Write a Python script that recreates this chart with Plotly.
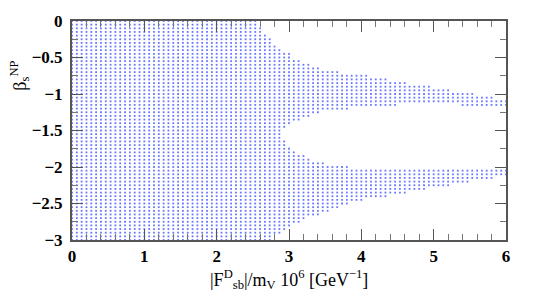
import plotly.graph_objects as go

# Scan rows of beta_s^NP (y) and the allowed |F_sb^D|/m_V extent read for each row
beta_rows = [0.00, -0.05, -0.10, -0.15, -0.20, -0.25, -0.30, -0.35, -0.40, -0.45,
             -0.50, -0.55, -0.60, -0.65, -0.70, -0.75, -0.80, -0.85, -0.90, -0.95,
             -1.00, -1.05, -1.10, -1.15, -1.20, -1.25, -1.30, -1.35, -1.40, -1.45,
             -1.50, -1.55, -1.60, -1.65, -1.70, -1.75, -1.80, -1.85, -1.90, -1.95,
             -2.00, -2.05, -2.10, -2.15, -2.20, -2.25, -2.30, -2.35, -2.40, -2.45,
             -2.50, -2.55, -2.60, -2.65, -2.70, -2.75, -2.80, -2.85, -2.90, -2.95,
             -3.00]
row_xmax = [2.58, 2.58, 2.60, 2.65, 2.68, 2.77, 2.78, 2.85, 2.91, 3.00,
            3.05, 3.16, 3.32, 3.45, 3.71, 4.10, 4.36, 4.65, 4.96, 5.26,
            5.55, 5.82, 6.00, 4.50, 3.80, 3.46, 3.27, 3.16, 3.06, 2.95,
            2.90, 2.90, 2.90, 2.95, 2.98, 3.06, 3.13, 3.20, 3.30, 3.50,
            3.85, 6.00, 6.00, 5.82, 5.50, 5.20, 4.90, 4.60, 4.36, 4.06,
            3.85, 3.71, 3.57, 3.46, 3.25, 3.16, 3.02, 2.95, 2.88, 2.78,
            2.75]
# extra allowed segment (row beta, x from, x to)
extra_segments = [(-1.15, 5.35, 6.00)]

x_ticks = [0, 1, 2, 3, 4, 5, 6]
x_ticklabels = ["0", "1", "2", "3", "4", "5", "6"]
y_ticks = [0, -0.5, -1, -1.5, -2, -2.5, -3]
y_ticklabels = ["0", "\u22120.5", "\u22121", "\u22121.5", "\u22122", "\u22122.5", "\u22123"]

F_STEP = 1.0 / 15.0   # scan step in |F_sb^D|/m_V
F_MAX = 6.0

xs, ys = [], []
n_cols = int(round(F_MAX / F_STEP)) + 1
for b, xm in zip(beta_rows, row_xmax):
    for i in range(n_cols):
        f = i * F_STEP
        ok = f <= xm + 1e-9
        for (sb, a, c) in extra_segments:
            if abs(sb - b) < 1e-9 and a - 1e-9 <= f <= c + 1e-9:
                ok = True
        if ok:
            xs.append(f)
            ys.append(b)

fig = go.Figure()
fig.add_trace(go.Scatter(
    x=xs, y=ys, mode="markers",
    marker=dict(symbol="square", size=1.8, color="rgb(45,65,255)", opacity=0.72,
                line=dict(width=0)),
    hoverinfo="skip", showlegend=False, cliponaxis=True))

SERIF = "Liberation Serif"
TICKFONT = dict(family="Liberation Serif", size=17, color="black", weight=700)
axis_common = dict(
    showline=True, linecolor="#555", linewidth=2, mirror="ticks",
    ticks="inside", tickcolor="#555", tickwidth=1, ticklen=11,
    showgrid=False, zeroline=False, automargin=False,
    tickfont=TICKFONT,
)

fig.update_xaxes(range=[0, 6], tickmode="array", tickvals=x_ticks,
                 ticktext=x_ticklabels,
                 minor=dict(dtick=0.2, ticklen=6, tickcolor="#777", ticks="inside"),
                 **axis_common)
fig.update_yaxes(range=[-3, 0], tickmode="array", tickvals=y_ticks,
                 ticktext=y_ticklabels,
                 minor=dict(dtick=0.25, ticklen=6, tickcolor="#777", ticks="inside"),
                 ticklabelstandoff=4,
                 **axis_common)

# the page body adds an 8px margin, so the figure is sized to fit the 554x307 window
fig.update_layout(
    width=546, height=299,
    margin=dict(l=64, r=48, t=13, b=67, autoexpand=False),
    plot_bgcolor="white", paper_bgcolor="white",
    font=dict(family=SERIF, color="black"),
    annotations=[
        dict(text="|F<sup>D</sup><sub>sb</sub>|/m<sub>V</sub> 10<sup>6</sup> [GeV<sup>\u22121</sup>]",
             xref="paper", yref="paper", x=0.5, y=-0.115, xanchor="center", yanchor="top",
             showarrow=False, font=dict(family=SERIF, size=18, color="black")),
        dict(text="\u03b2<sub>s</sub><sup>NP</sup>", textangle=-90,
             xref="paper", yref="paper", x=-0.12, y=0.75, xanchor="center", yanchor="middle",
             showarrow=False, font=dict(family=SERIF, size=18, color="black")),
    ],
)

fig.write_html("out.html")
